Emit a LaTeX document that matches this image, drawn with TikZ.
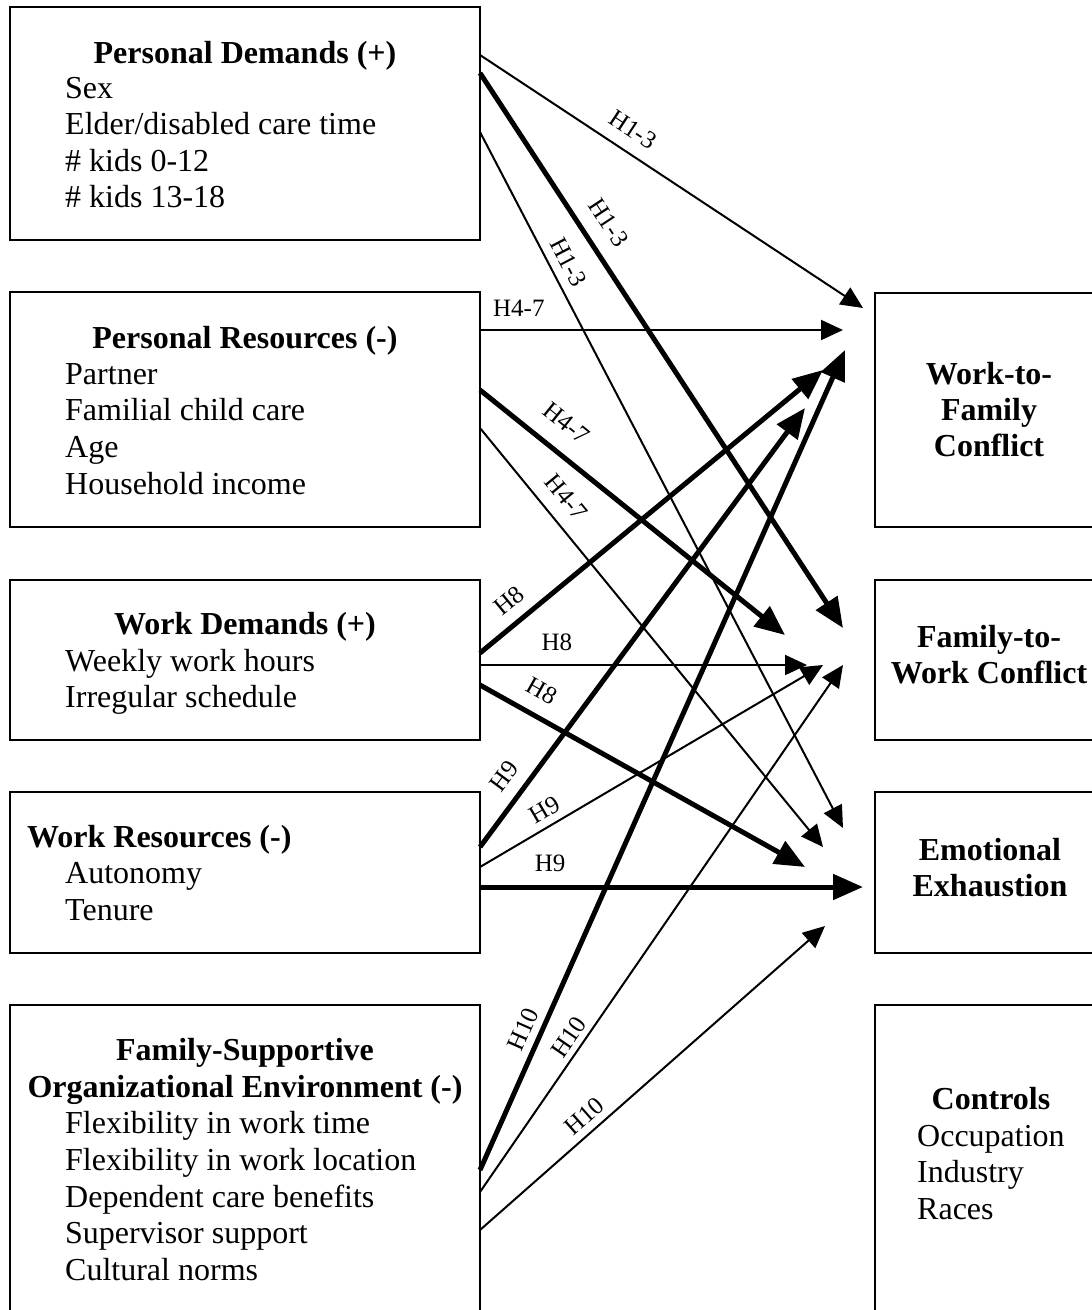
\documentclass[tikz,border=0pt]{standalone}
\usepackage{fontspec}
\setmainfont{Liberation Serif}
\usetikzlibrary{arrows.meta}
\begin{document}
\begin{tikzpicture}[x=1pt,y=-1pt,
  box/.style={draw,line width=1.8pt,inner sep=0pt,outer sep=0pt},
  txt/.style={inner sep=0pt,font=\fontsize{32}{36}\selectfont},
  ttl/.style={inner sep=0pt,font=\fontsize{32}{36}\selectfont\bfseries},
  thinarr/.style={line width=2pt,-{Triangle[length=22pt,width=20pt]}},
  thickarr/.style={line width=5pt,-{Triangle[length=30pt,width=25pt]}},
  lab/.style={sloped,inner sep=0pt,font=\fontsize{25}{25}\selectfont},
]
\clip (0,0) rectangle (1092,1310);
\fill[white] (0,0) rectangle (1092,1310);

% ---------- left boxes ----------
\node[box,minimum width=470,minimum height=233] (pd) at (245,123.5) {};
\node[ttl,anchor=base] (pdt) at (245,63) {Personal Demands (+)};
\node[txt,anchor=base west] (pd1) at (65,98) {Sex};
\node[txt,anchor=base west] (pd2) at (65,134.5) {Elder/disabled care time};
\node[txt,anchor=base west] (pd3) at (65,171) {\# kids 0-12};
\node[txt,anchor=base west] (pd4) at (65,207) {\# kids 13-18};

\node[box,minimum width=470,minimum height=235] (pr) at (245,409.5) {};
\node[ttl,anchor=base] (prt) at (245,348) {Personal Resources (-)};
\node[txt,anchor=base west] (pr1) at (65,384) {Partner};
\node[txt,anchor=base west] (pr2) at (65,420) {Familial child care};
\node[txt,anchor=base west] (pr3) at (65,457) {Age};
\node[txt,anchor=base west] (pr4) at (65,494) {Household income};

\node[box,minimum width=470,minimum height=160] (wd) at (245,660) {};
\node[ttl,anchor=base] (wdt) at (245,634) {Work Demands (+)};
\node[txt,anchor=base west] (wd1) at (65,671) {Weekly work hours};
\node[txt,anchor=base west] (wd2) at (65,707) {Irregular schedule};

\node[box,minimum width=470,minimum height=161] (wr) at (245,872.5) {};
\node[ttl,anchor=base west] (wrt) at (27,847) {Work Resources (-)};
\node[txt,anchor=base west] (wr1) at (65,883) {Autonomy};
\node[txt,anchor=base west] (wr2) at (65,920) {Tenure};

\node[box,minimum width=470,minimum height=330] (fs) at (245,1170) {};
\node[ttl,anchor=base] (fst1) at (245,1060) {Family-Supportive};
\node[ttl,anchor=base] (fst2) at (245,1097) {Organizational Environment (-)};
\node[txt,anchor=base west] (fs1) at (65,1133) {Flexibility in work time};
\node[txt,anchor=base west] (fs2) at (65,1170) {Flexibility in work location};
\node[txt,anchor=base west] (fs3) at (65,1207) {Dependent care benefits};
\node[txt,anchor=base west] (fs4) at (65,1243) {Supervisor support};
\node[txt,anchor=base west] (fs5) at (65,1280) {Cultural norms};

% ---------- right boxes ----------
\node[box,minimum width=235,minimum height=234] (wfc) at (992.5,410) {};
\node[ttl,anchor=base] (wfc1) at (989,384) {Work-to-};
\node[ttl,anchor=base] (wfc2) at (989,420) {Family};
\node[ttl,anchor=base] (wfc3) at (989,456) {Conflict};

\node[box,minimum width=235,minimum height=160] (fwc) at (992.5,660) {};
\node[ttl,anchor=base] (fwc1) at (989,647) {Family-to-};
\node[ttl,anchor=base] (fwc2) at (989,683) {Work Conflict};

\node[box,minimum width=235,minimum height=161] (ee) at (992.5,872.5) {};
\node[ttl,anchor=base] (ee1) at (990,860) {Emotional};
\node[ttl,anchor=base] (ee2) at (990,896) {Exhaustion};

\node[box,minimum width=235,minimum height=330] (ctl) at (992.5,1170) {};
\node[ttl,anchor=base] (ctlt) at (991,1109) {Controls};
\node[txt,anchor=base west] (ctl1) at (917,1146) {Occupation};
\node[txt,anchor=base west] (ctl2) at (917,1182) {Industry};
\node[txt,anchor=base west] (ctl3) at (917,1219) {Races};

% ---------- connector ends ----------
\coordinate (s1) at (480,55);    \coordinate (e1) at (863,308);
\coordinate (s2) at (480,73);    \coordinate (e2) at (843,628);
\coordinate (s3) at (480,132);   \coordinate (e3) at (843,828);
\coordinate (s4) at (480,330);   \coordinate (e4) at (843,330);
\coordinate (s5) at (480,390);   \coordinate (e5) at (785,635);
\coordinate (s6) at (480,428);   \coordinate (e6) at (823,847);
\coordinate (s7) at (480,653);   \coordinate (e7) at (823,370);
\coordinate (s8) at (480,665);   \coordinate (e8) at (807,665);
\coordinate (s9) at (480,685);   \coordinate (e9) at (805,867);
\coordinate (s10) at (480,847);  \coordinate (e10) at (805,408);
\coordinate (s11) at (480,867);  \coordinate (e11) at (823,665);
\coordinate (s12) at (480,887);  \coordinate (e12) at (863,887);
\coordinate (s13) at (480,1170); \coordinate (e13) at (845,350);
\coordinate (s14) at (480,1192); \coordinate (e14) at (843,665);
\coordinate (s15) at (480,1230); \coordinate (e15) at (825,926);

% ---------- connectors ----------
\draw[thinarr]  (s1) -- node[lab,pos=.368,above=13pt] (l1) {H1-3} (e1);
\draw[thickarr] (s2) -- node[lab,pos=.295,above=15pt] (l2) {H1-3} (e2);
\draw[thinarr]  (s3) -- node[lab,pos=.199,above=9pt] (l3) {H1-3} (e3);
\draw[thinarr]  (s4) -- node[lab,pos=.107,above=13pt] (l4) {H4-7} (e4);
\draw[thickarr] (s5) -- node[lab,pos=.225,above=18pt] (l5) {H4-7} (e5);
\draw[thinarr]  (s6) -- node[lab,pos=.200,above=14pt] (l6) {H4-7} (e6);
\draw[thickarr] (s7) -- node[lab,pos=.125,above=11pt] (l7) {H8} (e7);
\draw[thinarr]  (s8) -- node[lab,pos=.235,above=13pt] (l8) {H8} (e8);
\draw[thickarr] (s9) -- node[lab,pos=.154,above=14pt] (l9) {H8} (e9);
\draw[thickarr] (s10) -- node[lab,pos=.131,above=12pt] (l10) {H9} (e10);
\draw[thinarr]  (s11) -- node[lab,pos=.213,above=7pt] (l11) {H9} (e11);
\draw[thickarr] (s12) -- node[lab,pos=.183,above=13pt] (l12) {H9} (e12);
\draw[thickarr] (s13) -- node[lab,pos=.163,above=7pt] (l13) {H10} (e13);
\draw[thinarr]  (s14) -- node[lab,pos=.278,above=5pt] (l14) {H10} (e14);
\draw[thinarr]  (s15) -- node[lab,pos=.334,above=7pt] (l15) {H10} (e15);
\end{tikzpicture}
\end{document}
